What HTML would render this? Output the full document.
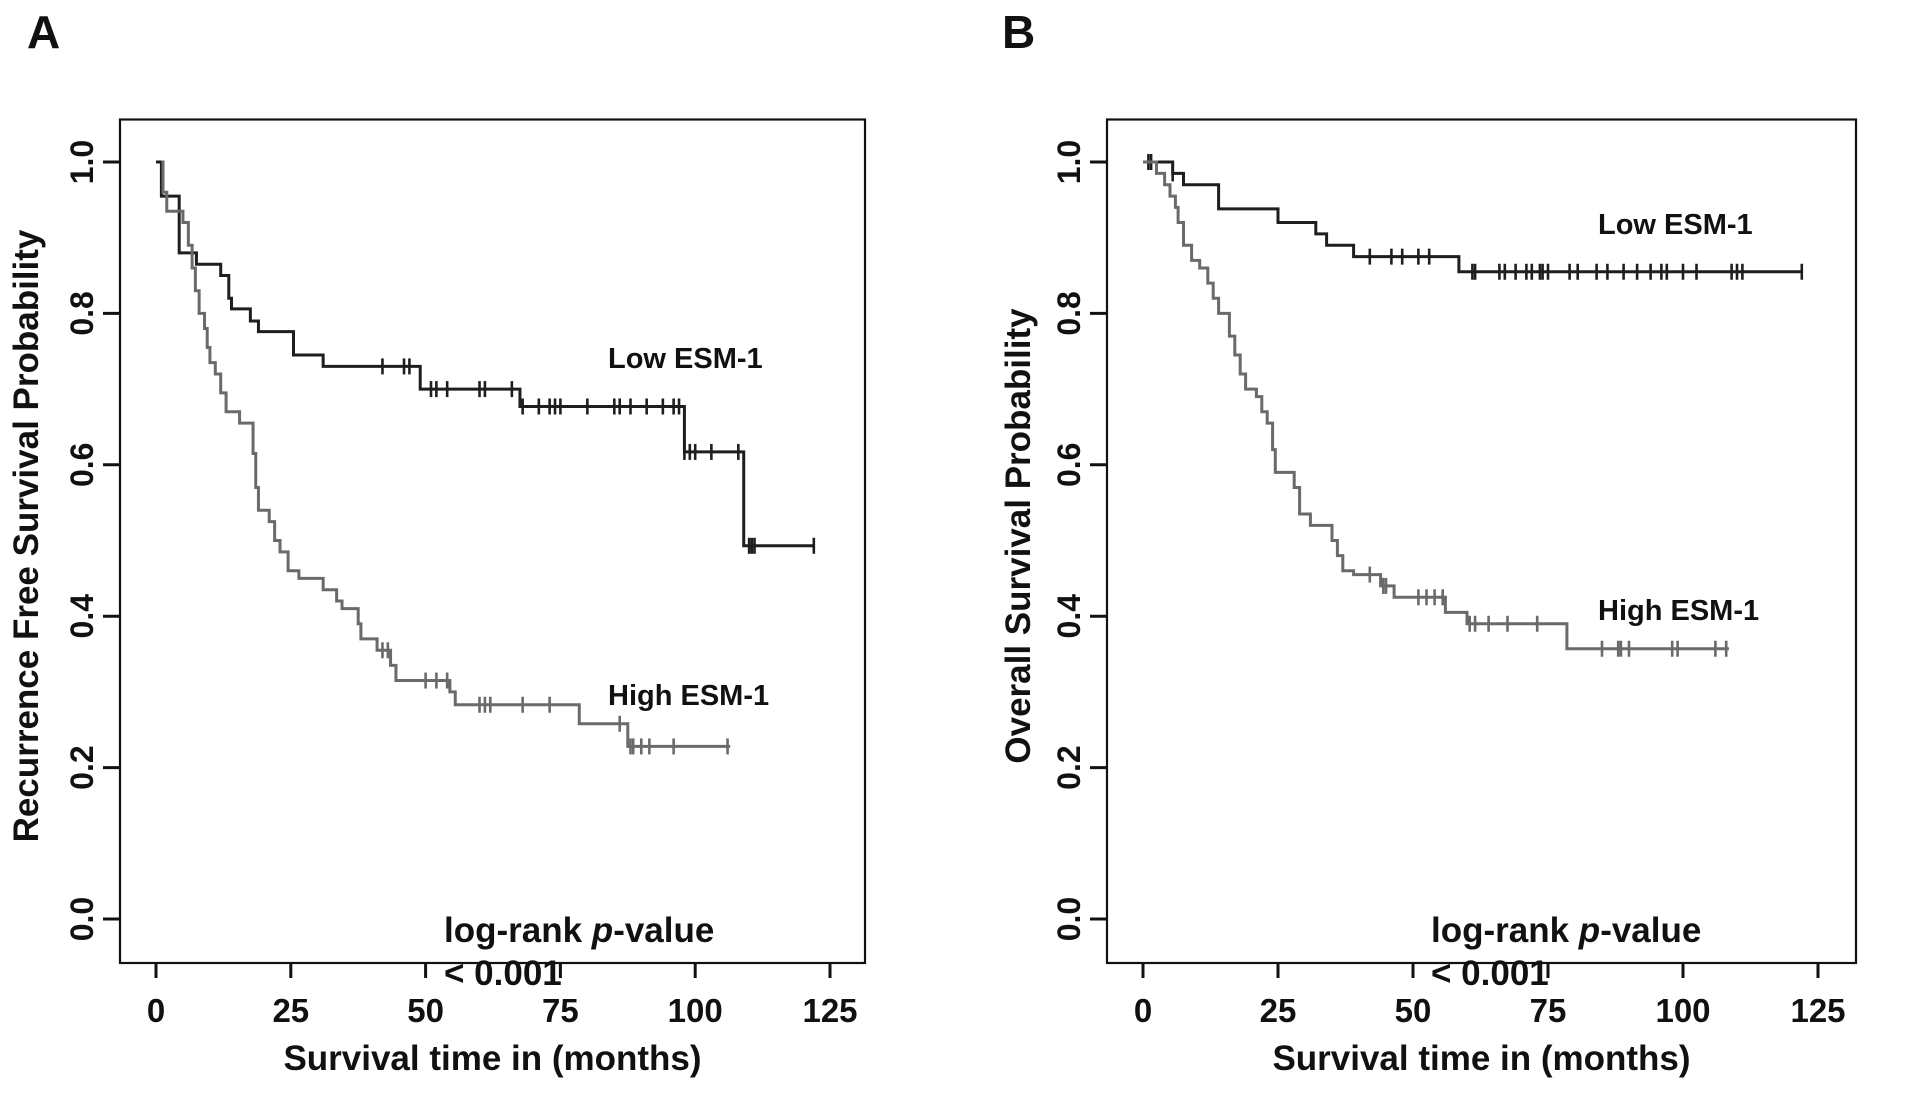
<!DOCTYPE html>
<html><head><meta charset="utf-8"><style>
html,body{margin:0;padding:0;background:#fff;}
svg text{font-family:"Liberation Sans",Arial,sans-serif;font-weight:bold;fill:#111;}
</style></head><body>
<svg id="fig" width="1913" height="1089" viewBox="0 0 1913 1089" xmlns="http://www.w3.org/2000/svg"></svg>
<script>
// Panel A (recurrence free survival)
const aLowTimes = [0, 1, 4.3, 6, 7.5, 12, 13.5, 14, 17.5, 19, 25.5, 31, 49, 67.5, 98, 109];
const aLowSurv  = [1.0, 0.955, 0.88, 0.88, 0.865, 0.85, 0.82, 0.806, 0.79, 0.776, 0.745, 0.73, 0.70, 0.677, 0.617, 0.493];
const aLowCens  = [42, 46, 47, 51, 52, 54, 60, 61, 66, 68, 71, 73, 74, 75, 80, 85, 86, 88, 91, 94, 96, 97, 98, 99, 100, 103, 108, 110, 110.5, 111, 122];
const aLowEnd = 122;
const aHighTimes = [1, 1.3, 2, 5, 6, 6.7, 7.3, 8, 9, 9.5, 10, 11, 12, 13, 15.5, 18, 18.5, 19, 21, 22, 23, 24.5, 26.5, 31, 33.5, 34.5, 37.5, 38, 41, 43.5, 44.5, 54.5, 55.5, 78.5, 87.5];
const aHighSurv  = [1.0, 0.96, 0.935, 0.92, 0.89, 0.86, 0.83, 0.80, 0.78, 0.755, 0.735, 0.72, 0.695, 0.67, 0.655, 0.615, 0.57, 0.54, 0.525, 0.5, 0.485, 0.46, 0.45, 0.435, 0.42, 0.41, 0.39, 0.37, 0.355, 0.335, 0.315, 0.30, 0.283, 0.258, 0.228];
const aHighCens  = [42, 43, 50, 52, 54, 60, 61, 62, 68, 73, 86, 88, 88.5, 90, 91.5, 96, 106];
const aHighEnd = 106.5;
// Panel B (overall survival)
const bLowTimes = [0, 5.5, 7.5, 14, 25, 32, 34, 39, 58.5];
const bLowSurv  = [1.0, 0.985, 0.97, 0.938, 0.92, 0.905, 0.89, 0.875, 0.855];
const bLowCens  = [1, 1.5, 5.5, 42, 46, 48, 51, 53, 61, 61.5, 66, 67, 69, 71, 72, 73.5, 74, 75, 79, 80.5, 84, 86, 89, 91.5, 94, 96, 97, 100, 102.5, 109, 110, 111, 122];
const bLowEnd = 122;
const bHighTimes = [0, 2.5, 4, 5, 6, 6.5, 7.5, 9, 10.5, 12, 13, 14, 16, 17, 18, 19, 21, 22, 23, 24, 24.5, 28, 29, 31, 35, 36, 37, 39, 44, 46.5, 56, 60, 78.5];
const bHighSurv  = [1.0, 0.985, 0.97, 0.955, 0.94, 0.92, 0.89, 0.87, 0.86, 0.84, 0.82, 0.80, 0.77, 0.745, 0.72, 0.70, 0.69, 0.67, 0.655, 0.62, 0.59, 0.57, 0.535, 0.52, 0.50, 0.48, 0.46, 0.455, 0.44, 0.425, 0.405, 0.39, 0.357];
const bHighCens  = [42, 44.5, 45, 51, 52.5, 54, 55.5, 60.5, 61.5, 64, 67.5, 73, 85, 88, 88.5, 90, 98, 99, 106, 108];
const bHighEnd = 108.5;
const xTicks = [0, 25, 50, 75, 100, 125];
const yTicks = [0.0, 0.2, 0.4, 0.6, 0.8, 1.0];

const NS = "http://www.w3.org/2000/svg";
const svg = document.getElementById('fig');
function mk(tag, attrs, parent) {
  const e = document.createElementNS(NS, tag);
  for (const k in attrs) e.setAttribute(k, attrs[k]);
  (parent || svg).appendChild(e);
  return e;
}
function txt(s, x, y, size, parent, anchor, rot) {
  const t = mk('text', {x: x, y: y, 'font-size': size, 'text-anchor': anchor || 'middle'}, parent);
  if (rot) t.setAttribute('transform', 'rotate(-90 ' + x + ' ' + y + ')');
  t.textContent = s;
  return t;
}
function survAt(times, surv, t) {
  let v = surv[0];
  for (let i = 0; i < times.length; i++) if (times[i] <= t) v = surv[i];
  return v;
}
function panel(p) {
  const g = mk('g', {});
  
  
  const xs = m => p.x0 + (m / 125) * (p.x125 - p.x0);
  const ys = v => 919 - v * (919 - 162);
  const box = mk('rect', {x: p.left, y: 119.5, width: p.right - p.left, height: 963 - 119.5, fill: 'none', stroke: '#111', 'stroke-width': 2.2}, g);
  
  
  yTicks.forEach(v => {
    const l = mk('line', {x1: p.left - 17, x2: p.left, y1: ys(v), y2: ys(v), stroke: '#111', 'stroke-width': 3}, g);
    
    
    const t = txt(v.toFixed(1), p.left - 27, ys(v), 32, g, 'middle', true);
    
    
  });
  xTicks.forEach(v => {
    const l = mk('line', {x1: xs(v), x2: xs(v), y1: 963, y2: 978, stroke: '#111', 'stroke-width': 3}, g);
    
    
    const t = txt(String(v), xs(v), 1022, 33, g);
    
    
  });
  const xt = txt('Survival time in (months)', (p.left + p.right) / 2, 1070, 35, g);
  
  
  const yt = txt(p.ytitle, p.ytx, 536, 35, g, 'middle', true);
  
  
  const pl = txt(p.label, p.lx, 48, 46, g, 'start');
  
  
  p.series.forEach(s => {
    let d = 'M' + xs(s.t[0]) + ' ' + ys(s.s[0]);
    for (let i = 1; i < s.t.length; i++) d += ' H' + xs(s.t[i]) + ' V' + ys(s.s[i]);
    d += ' H' + xs(s.end);
    const path = mk('path', {d: d, fill: 'none', stroke: s.color, 'stroke-width': 3}, g);
    
    
    s.c.forEach(c => {
      const y = ys(survAt(s.t, s.s, c));
      const m = mk('line', {x1: xs(c), x2: xs(c), y1: y - 8, y2: y + 8, stroke: s.color, 'stroke-width': 2.6}, g);
      
      
    });
  });
  p.texts.forEach(q => {
    const t = txt(q[0], q[1], q[2], 29, g, 'start');
    
    
  });
  const lr = mk('text', {x: p.lrx, y: 942, 'font-size': 35, 'text-anchor': 'start'}, g);
  
  
  lr.innerHTML = 'log-rank <tspan font-style="italic">p</tspan>-value';
  const pv = txt('< 0.001', p.lrx, 985, 35, g, 'start');
  
  
}
panel({name: 'panel-a', left: 120, right: 865, x0: 156, x125: 830, ytitle: 'Recurrence Free Survival Probability', ytx: 38, label: 'A', lx: 27, lrx: 444,
  series: [
    {name: 'low-esm1', t: aLowTimes, s: aLowSurv, c: aLowCens, end: aLowEnd, color: '#1e1e1e'},
    {name: 'high-esm1', t: aHighTimes, s: aHighSurv, c: aHighCens, end: aHighEnd, color: '#6a6a6a'}],
  texts: [['Low ESM-1', 608, 368, 'low-esm1-label'], ['High ESM-1', 608, 705, 'high-esm1-label']]});
panel({name: 'panel-b', left: 1107, right: 1856, x0: 1143, x125: 1818, ytitle: 'Overall Survival Probability', ytx: 1030, label: 'B', lx: 1002, lrx: 1431,
  series: [
    {name: 'low-esm1', t: bLowTimes, s: bLowSurv, c: bLowCens, end: bLowEnd, color: '#1e1e1e'},
    {name: 'high-esm1', t: bHighTimes, s: bHighSurv, c: bHighCens, end: bHighEnd, color: '#6a6a6a'}],
  texts: [['Low ESM-1', 1598, 234, 'low-esm1-label'], ['High ESM-1', 1598, 620, 'high-esm1-label']]});
</script>
</body></html>
